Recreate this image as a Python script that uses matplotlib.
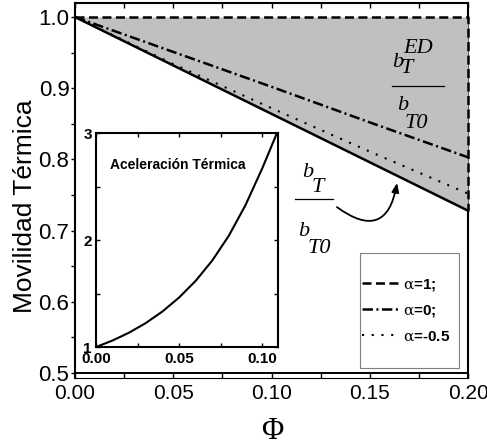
import matplotlib
matplotlib.use("Agg")
import matplotlib.pyplot as plt
from matplotlib.patches import FancyArrowPatch, Rectangle
from matplotlib.ticker import MultipleLocator

# thermal mobility b_T/b_T0 against volume fraction
phi = [0.0, 0.05, 0.10, 0.15, 0.20]
mob_base = [1.0, 0.932, 0.864, 0.796, 0.728]
mob_a1 = [1.0, 1.0, 1.0, 1.0, 1.0]
mob_a0 = [1.0, 0.951, 0.902, 0.852, 0.803]
mob_am05 = [1.0, 0.934, 0.872, 0.811, 0.752]
legend_labels = [r"$\mathrm{\alpha}$=1;", r"$\mathrm{\alpha}$=0;", r"$\mathrm{\alpha}$=-0.5"]

x_ticks = [0.0, 0.05, 0.10, 0.15, 0.20]
x_labels = ["0.00", "0.05", "0.10", "0.15", "0.20"]
y_ticks = [0.5, 0.6, 0.7, 0.8, 0.9, 1.0]
y_labels = ["0.5", "0.6", "0.7", "0.8", "0.9", "1.0"]

# inset: thermal acceleration
acc_phi = [0.0, 0.01, 0.02, 0.03, 0.04, 0.05, 0.06, 0.07, 0.08, 0.09, 0.10, 0.109]
acc = [1.0, 1.061, 1.135, 1.224, 1.332, 1.462, 1.618, 1.808, 2.04, 2.325, 2.665, 3.0]
in_x_ticks = [0.0, 0.05, 0.10]
in_x_labels = ["0.00", "0.05", "0.10"]
in_y_ticks = [1, 2, 3]
in_y_labels = ["1", "2", "3"]

plt.rcParams["lines.scale_dashes"] = False
plt.rcParams["mathtext.fontset"] = "custom"
plt.rcParams["mathtext.rm"] = "DejaVu Serif"
plt.rcParams["mathtext.it"] = "DejaVu Serif:italic"
plt.rcParams["mathtext.bf"] = "DejaVu Serif:bold"

SANS = ["Liberation Sans Narrow", "Liberation Sans"]

fig = plt.figure(figsize=(4.87, 4.48), dpi=100)
ax = fig.add_axes([0.154, 0.1563, 0.807, 0.837])

ax.fill_between(phi, mob_base, mob_a1, color="#c0c0c0", lw=0, zorder=3)
ax.plot(phi, mob_base, color="k", lw=1.8, zorder=4)
l1, = ax.plot(phi + [phi[-1]], mob_a1 + [mob_base[-1]], color="k", lw=1.8,
              dashes=(6.5, 3.2), zorder=4, clip_on=False)
l2, = ax.plot(phi, mob_a0, color="k", lw=1.8, dashes=(7.5, 2.5, 1.5, 2.5), zorder=4)
l3, = ax.plot(phi, mob_am05, color="k", lw=1.5, dashes=(1.5, 5.5), zorder=4)
ax.axhline(0.5, color="k", lw=1.4, zorder=2.6)

ax.set_xlim(0, 0.2)
ax.set_ylim(0.493, 1.0197)
ax.set_xticks(x_ticks, x_labels)
ax.set_yticks(y_ticks, y_labels)
ax.xaxis.set_minor_locator(MultipleLocator(0.025))
ax.yaxis.set_minor_locator(MultipleLocator(0.05))
ax.tick_params(axis="x", which="both", direction="in", top=True, bottom=True,
               length=3.6, width=1, labelsize=15, pad=4)
ax.tick_params(axis="y", which="both", direction="out", left=True, right=False,
               length=3, width=1, labelsize=16, pad=1)
for lab in ax.get_xticklabels() + ax.get_yticklabels():
    lab.set_family(SANS)
for side in ["left", "top", "right"]:
    ax.spines[side].set_linewidth(1.5)
ax.spines["bottom"].set_linewidth(0.8)

ax.set_ylabel("Movilidad Térmica", family="Liberation Sans", size=19)
ax.yaxis.set_label_coords(-0.097, 0.459)
ax.set_xlabel("Φ", family="Liberation Serif", size=22)
ax.xaxis.set_label_coords(0.501, -0.104)

# legend box drawn separately so the entries can sit close to its left edge
ax.add_patch(Rectangle((0.725, 0.027), 0.252, 0.305, transform=ax.transAxes,
                       facecolor="white", edgecolor="#7f7f7f", lw=0.8, zorder=7))
leg = ax.legend([l1, l2, l3], legend_labels, loc="center left",
                bbox_to_anchor=(0.730, 0.181), borderaxespad=0, borderpad=0,
                frameon=False, prop=dict(family=SANS, weight="bold", size=11),
                handlelength=2.5, handletextpad=0.2, labelspacing=0.68)
leg.set_zorder(8)


def piece(x, y, s):
    ax.text(x, y, s, transform=ax.transAxes, ha="left", va="baseline",
            family="Liberation Serif", style="italic", size=16, zorder=6)


def bar(x0, x1, y):
    ax.plot([x0, x1], [y, y], transform=ax.transAxes, color="k", lw=0.9,
            zorder=6, clip_on=False)


# b_T^ED / b_T0
piece(0.8066, 0.8293, "b")
piece(0.8346, 0.8667, "ED")
piece(0.8295, 0.8133, "T")
bar(0.8066, 0.9389, 0.7787)
piece(0.8193, 0.7147, "b")
piece(0.8397, 0.6667, "T0")

# b_T / b_T0
piece(0.5776, 0.536, "b")
piece(0.603, 0.496, "T")
bar(0.5598, 0.6565, 0.4773)
piece(0.5674, 0.3787, "b")
piece(0.5929, 0.3333, "T0")

ax.add_patch(FancyArrowPatch((0.1333, 0.733), (0.1639, 0.767),
                             connectionstyle="arc3,rad=0.8",
                             arrowstyle="-|>,head_length=0.45,head_width=0.18",
                             mutation_scale=12, color="k", lw=1.3,
                             shrinkA=0, shrinkB=0, zorder=6))

# inset
axin = fig.add_axes([0.1971, 0.2254, 0.3737, 0.4777])
axin.plot(acc_phi, acc, color="k", lw=1.5)
axin.set_xlim(0, 0.1096)
axin.set_ylim(1, 3)
axin.set_xticks(in_x_ticks, in_x_labels)
axin.set_yticks(in_y_ticks, in_y_labels)
axin.xaxis.set_minor_locator(MultipleLocator(0.025))
axin.yaxis.set_minor_locator(MultipleLocator(0.5))
axin.tick_params(which="both", direction="in", top=True, right=True,
                 length=3, width=1, labelsize=11)
axin.tick_params(axis="x", pad=3.5)
axin.tick_params(axis="y", pad=3)
for lab in axin.get_xticklabels() + axin.get_yticklabels():
    lab.set_family(SANS)
    lab.set_weight("bold")
for sp in axin.spines.values():
    sp.set_linewidth(1.5)
axin.text(0.45, 0.85, "Aceleración Térmica", transform=axin.transAxes,
          ha="center", va="center", family=SANS, weight="bold", size=10)

fig.savefig("out.png", dpi=100)
